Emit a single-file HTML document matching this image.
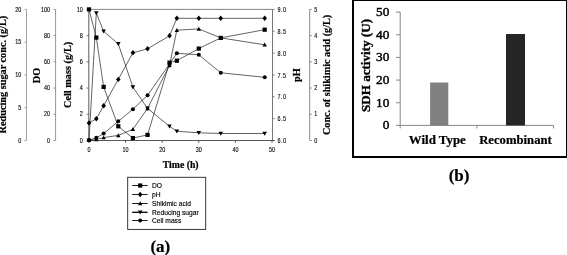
<!DOCTYPE html>
<html><head><meta charset="utf-8"><title>Figure</title>
<style>
html,body{margin:0;padding:0;background:#fff;}
body{width:567px;height:255px;overflow:hidden;}
svg{display:block;}
.t{font-family:"Liberation Sans",Arial,sans-serif;font-size:6.8px;fill:#000;stroke:#000;stroke-width:0.12px;}
.lg{font-family:"Liberation Sans",Arial,sans-serif;font-size:7.3px;fill:#000;stroke:#000;stroke-width:0.15px;}
.b{font-family:"Liberation Serif","Times New Roman",serif;font-weight:bold;fill:#000;stroke:#000;stroke-width:0.22px;}
</style></head><body>
<svg width="567" height="255" viewBox="0 0 567 255">
<rect width="567" height="255" fill="#fff"/>
<line x1="26.5" y1="9.4" x2="26.5" y2="140.5" stroke="#8a8a8a" stroke-width="0.8"/>
<line x1="26.5" y1="140.50" x2="24.3" y2="140.50" stroke="#8a8a8a" stroke-width="0.7"/>
<text class="t" transform="translate(21.3 142.65) scale(0.8 1)" text-anchor="end">0</text>
<line x1="26.5" y1="107.72" x2="24.3" y2="107.72" stroke="#8a8a8a" stroke-width="0.7"/>
<text class="t" transform="translate(21.3 109.88) scale(0.8 1)" text-anchor="end">5</text>
<line x1="26.5" y1="74.95" x2="24.3" y2="74.95" stroke="#8a8a8a" stroke-width="0.7"/>
<text class="t" transform="translate(21.3 77.10) scale(0.8 1)" text-anchor="end">10</text>
<line x1="26.5" y1="42.18" x2="24.3" y2="42.18" stroke="#8a8a8a" stroke-width="0.7"/>
<text class="t" transform="translate(21.3 44.33) scale(0.8 1)" text-anchor="end">15</text>
<line x1="26.5" y1="9.40" x2="24.3" y2="9.40" stroke="#8a8a8a" stroke-width="0.7"/>
<text class="t" transform="translate(21.3 11.55) scale(0.8 1)" text-anchor="end">20</text>
<line x1="55.6" y1="9.4" x2="55.6" y2="140.5" stroke="#777" stroke-width="0.8"/>
<line x1="55.6" y1="140.50" x2="53.4" y2="140.50" stroke="#777" stroke-width="0.7"/>
<text class="t" transform="translate(50.1 142.65) scale(0.8 1)" text-anchor="end">0</text>
<line x1="55.6" y1="114.28" x2="53.4" y2="114.28" stroke="#777" stroke-width="0.7"/>
<text class="t" transform="translate(50.1 116.43) scale(0.8 1)" text-anchor="end">20</text>
<line x1="55.6" y1="88.06" x2="53.4" y2="88.06" stroke="#777" stroke-width="0.7"/>
<text class="t" transform="translate(50.1 90.21) scale(0.8 1)" text-anchor="end">40</text>
<line x1="55.6" y1="61.84" x2="53.4" y2="61.84" stroke="#777" stroke-width="0.7"/>
<text class="t" transform="translate(50.1 63.99) scale(0.8 1)" text-anchor="end">60</text>
<line x1="55.6" y1="35.62" x2="53.4" y2="35.62" stroke="#777" stroke-width="0.7"/>
<text class="t" transform="translate(50.1 37.77) scale(0.8 1)" text-anchor="end">80</text>
<line x1="55.6" y1="9.40" x2="53.4" y2="9.40" stroke="#777" stroke-width="0.7"/>
<text class="t" transform="translate(50.1 11.55) scale(0.8 1)" text-anchor="end">100</text>
<line x1="88.8" y1="9.4" x2="88.8" y2="140.5" stroke="#333" stroke-width="0.8"/>
<line x1="88.8" y1="140.50" x2="86.6" y2="140.50" stroke="#333" stroke-width="0.7"/>
<text class="t" transform="translate(82.7 142.65) scale(0.8 1)" text-anchor="end">0</text>
<line x1="88.8" y1="114.28" x2="86.6" y2="114.28" stroke="#333" stroke-width="0.7"/>
<text class="t" transform="translate(82.7 116.43) scale(0.8 1)" text-anchor="end">2</text>
<line x1="88.8" y1="88.06" x2="86.6" y2="88.06" stroke="#333" stroke-width="0.7"/>
<text class="t" transform="translate(82.7 90.21) scale(0.8 1)" text-anchor="end">4</text>
<line x1="88.8" y1="61.84" x2="86.6" y2="61.84" stroke="#333" stroke-width="0.7"/>
<text class="t" transform="translate(82.7 63.99) scale(0.8 1)" text-anchor="end">6</text>
<line x1="88.8" y1="35.62" x2="86.6" y2="35.62" stroke="#333" stroke-width="0.7"/>
<text class="t" transform="translate(82.7 37.77) scale(0.8 1)" text-anchor="end">8</text>
<line x1="88.8" y1="9.40" x2="86.6" y2="9.40" stroke="#333" stroke-width="0.7"/>
<text class="t" transform="translate(82.7 11.55) scale(0.8 1)" text-anchor="end">10</text>
<line x1="272.5" y1="9.4" x2="272.5" y2="140.5" stroke="#555" stroke-width="0.8"/>
<line x1="272.5" y1="140.50" x2="274.7" y2="140.50" stroke="#555" stroke-width="0.7"/>
<text class="t" transform="translate(277.5 143.15) scale(0.8 1)" text-anchor="start" letter-spacing="0.6">6.0</text>
<line x1="272.5" y1="118.65" x2="274.7" y2="118.65" stroke="#555" stroke-width="0.7"/>
<text class="t" transform="translate(277.5 121.30) scale(0.8 1)" text-anchor="start" letter-spacing="0.6">6.5</text>
<line x1="272.5" y1="96.80" x2="274.7" y2="96.80" stroke="#555" stroke-width="0.7"/>
<text class="t" transform="translate(277.5 99.45) scale(0.8 1)" text-anchor="start" letter-spacing="0.6">7.0</text>
<line x1="272.5" y1="74.95" x2="274.7" y2="74.95" stroke="#555" stroke-width="0.7"/>
<text class="t" transform="translate(277.5 77.60) scale(0.8 1)" text-anchor="start" letter-spacing="0.6">7.5</text>
<line x1="272.5" y1="53.10" x2="274.7" y2="53.10" stroke="#555" stroke-width="0.7"/>
<text class="t" transform="translate(277.5 55.75) scale(0.8 1)" text-anchor="start" letter-spacing="0.6">8.0</text>
<line x1="272.5" y1="31.25" x2="274.7" y2="31.25" stroke="#555" stroke-width="0.7"/>
<text class="t" transform="translate(277.5 33.90) scale(0.8 1)" text-anchor="start" letter-spacing="0.6">8.5</text>
<line x1="272.5" y1="9.40" x2="274.7" y2="9.40" stroke="#555" stroke-width="0.7"/>
<text class="t" transform="translate(277.5 12.05) scale(0.8 1)" text-anchor="start" letter-spacing="0.6">9.0</text>
<line x1="309.7" y1="9.4" x2="309.7" y2="140.5" stroke="#6a6a6a" stroke-width="0.8"/>
<line x1="309.7" y1="140.50" x2="311.9" y2="140.50" stroke="#6a6a6a" stroke-width="0.7"/>
<text class="t" transform="translate(314.2 142.65) scale(0.8 1)" text-anchor="start">0</text>
<line x1="309.7" y1="114.28" x2="311.9" y2="114.28" stroke="#6a6a6a" stroke-width="0.7"/>
<text class="t" transform="translate(314.2 116.43) scale(0.8 1)" text-anchor="start">1</text>
<line x1="309.7" y1="88.06" x2="311.9" y2="88.06" stroke="#6a6a6a" stroke-width="0.7"/>
<text class="t" transform="translate(314.2 90.21) scale(0.8 1)" text-anchor="start">2</text>
<line x1="309.7" y1="61.84" x2="311.9" y2="61.84" stroke="#6a6a6a" stroke-width="0.7"/>
<text class="t" transform="translate(314.2 63.99) scale(0.8 1)" text-anchor="start">3</text>
<line x1="309.7" y1="35.62" x2="311.9" y2="35.62" stroke="#6a6a6a" stroke-width="0.7"/>
<text class="t" transform="translate(314.2 37.77) scale(0.8 1)" text-anchor="start">4</text>
<line x1="309.7" y1="9.40" x2="311.9" y2="9.40" stroke="#6a6a6a" stroke-width="0.7"/>
<text class="t" transform="translate(314.2 11.55) scale(0.8 1)" text-anchor="start">5</text>
<line x1="88.8" y1="9.4" x2="272.5" y2="9.4" stroke="#777" stroke-width="0.9"/>
<line x1="88.8" y1="140.5" x2="274.6" y2="140.5" stroke="#444" stroke-width="0.9"/>
<line x1="89.00" y1="140.5" x2="89.00" y2="142.8" stroke="#333" stroke-width="0.8"/>
<text class="t" transform="translate(89.00 152.0) scale(0.8 1)" text-anchor="middle">0</text>
<line x1="125.60" y1="140.5" x2="125.60" y2="142.8" stroke="#333" stroke-width="0.8"/>
<text class="t" transform="translate(125.60 152.0) scale(0.8 1)" text-anchor="middle">10</text>
<line x1="162.20" y1="140.5" x2="162.20" y2="142.8" stroke="#333" stroke-width="0.8"/>
<text class="t" transform="translate(162.20 152.0) scale(0.8 1)" text-anchor="middle">20</text>
<line x1="198.80" y1="140.5" x2="198.80" y2="142.8" stroke="#333" stroke-width="0.8"/>
<text class="t" transform="translate(198.80 152.0) scale(0.8 1)" text-anchor="middle">30</text>
<line x1="235.40" y1="140.5" x2="235.40" y2="142.8" stroke="#333" stroke-width="0.8"/>
<text class="t" transform="translate(235.40 152.0) scale(0.8 1)" text-anchor="middle">40</text>
<line x1="272.00" y1="140.5" x2="272.00" y2="142.8" stroke="#333" stroke-width="0.8"/>
<text class="t" transform="translate(272.00 152.0) scale(0.8 1)" text-anchor="middle">50</text>
<polyline points="89.00,9.40 96.32,37.60 103.64,86.90 118.28,126.30 132.92,138.10 147.56,134.90 169.52,62.60 176.84,60.70 198.80,48.60 220.76,37.90 264.68,29.70" fill="none" stroke="#1a1a1a" stroke-width="0.68" stroke-linejoin="round"/>
<polyline points="89.00,123.00 96.32,118.80 103.64,105.70 118.28,79.40 132.92,52.80 147.56,48.80 169.52,35.80 176.84,18.30 198.80,18.30 220.76,18.30 264.68,18.30" fill="none" stroke="#1a1a1a" stroke-width="0.68" stroke-linejoin="round"/>
<polyline points="89.00,140.30 96.32,139.50 103.64,137.60 118.28,135.40 132.92,129.30 147.56,108.40 169.52,65.40 176.84,30.20 198.80,28.90 220.76,37.90 264.68,44.80" fill="none" stroke="#1a1a1a" stroke-width="0.68" stroke-linejoin="round"/>
<polyline points="89.00,140.30 96.32,13.00 103.64,31.30 118.28,43.90 132.92,87.20 147.56,108.40 169.52,126.30 176.84,131.30 198.80,132.80 220.76,133.50 264.68,133.50" fill="none" stroke="#1a1a1a" stroke-width="0.68" stroke-linejoin="round"/>
<polyline points="89.00,140.30 96.32,137.80 103.64,133.60 118.28,121.30 132.92,109.20 147.56,95.30 169.52,64.00 176.84,53.30 198.80,54.80 220.76,72.80 264.68,77.30" fill="none" stroke="#1a1a1a" stroke-width="0.68" stroke-linejoin="round"/>
<rect x="86.90" y="7.30" width="4.2" height="4.2" fill="#000"/>
<rect x="94.22" y="35.50" width="4.2" height="4.2" fill="#000"/>
<rect x="101.54" y="84.80" width="4.2" height="4.2" fill="#000"/>
<rect x="116.18" y="124.20" width="4.2" height="4.2" fill="#000"/>
<rect x="130.82" y="136.00" width="4.2" height="4.2" fill="#000"/>
<rect x="145.46" y="132.80" width="4.2" height="4.2" fill="#000"/>
<rect x="167.42" y="60.50" width="4.2" height="4.2" fill="#000"/>
<rect x="174.74" y="58.60" width="4.2" height="4.2" fill="#000"/>
<rect x="196.70" y="46.50" width="4.2" height="4.2" fill="#000"/>
<rect x="218.66" y="35.80" width="4.2" height="4.2" fill="#000"/>
<rect x="262.58" y="27.60" width="4.2" height="4.2" fill="#000"/>
<path d="M89.00 120.30L91.30 123.00L89.00 125.70L86.70 123.00Z" fill="#000"/>
<path d="M96.32 116.10L98.61 118.80L96.32 121.50L94.02 118.80Z" fill="#000"/>
<path d="M103.64 103.00L105.94 105.70L103.64 108.40L101.34 105.70Z" fill="#000"/>
<path d="M118.28 76.70L120.58 79.40L118.28 82.10L115.98 79.40Z" fill="#000"/>
<path d="M132.92 50.10L135.22 52.80L132.92 55.50L130.63 52.80Z" fill="#000"/>
<path d="M147.56 46.10L149.85 48.80L147.56 51.50L145.27 48.80Z" fill="#000"/>
<path d="M169.52 33.10L171.81 35.80L169.52 38.50L167.23 35.80Z" fill="#000"/>
<path d="M176.84 15.60L179.13 18.30L176.84 21.00L174.55 18.30Z" fill="#000"/>
<path d="M198.80 15.60L201.09 18.30L198.80 21.00L196.51 18.30Z" fill="#000"/>
<path d="M220.76 15.60L223.05 18.30L220.76 21.00L218.47 18.30Z" fill="#000"/>
<path d="M264.68 15.60L266.98 18.30L264.68 21.00L262.38 18.30Z" fill="#000"/>
<path d="M89.00 138.10L91.20 142.06L86.80 142.06Z" fill="#000"/>
<path d="M96.32 137.30L98.52 141.26L94.12 141.26Z" fill="#000"/>
<path d="M103.64 135.40L105.84 139.36L101.44 139.36Z" fill="#000"/>
<path d="M118.28 133.20L120.48 137.16L116.08 137.16Z" fill="#000"/>
<path d="M132.92 127.10L135.12 131.06L130.72 131.06Z" fill="#000"/>
<path d="M147.56 106.20L149.76 110.16L145.36 110.16Z" fill="#000"/>
<path d="M169.52 63.20L171.72 67.16L167.32 67.16Z" fill="#000"/>
<path d="M176.84 28.00L179.04 31.96L174.64 31.96Z" fill="#000"/>
<path d="M198.80 26.70L201.00 30.66L196.60 30.66Z" fill="#000"/>
<path d="M220.76 35.70L222.96 39.66L218.56 39.66Z" fill="#000"/>
<path d="M264.68 42.60L266.88 46.56L262.48 46.56Z" fill="#000"/>
<path d="M89.00 142.60L91.30 138.46L86.70 138.46Z" fill="#000"/>
<path d="M96.32 15.30L98.62 11.16L94.02 11.16Z" fill="#000"/>
<path d="M103.64 33.60L105.94 29.46L101.34 29.46Z" fill="#000"/>
<path d="M118.28 46.20L120.58 42.06L115.98 42.06Z" fill="#000"/>
<path d="M132.92 89.50L135.22 85.36L130.62 85.36Z" fill="#000"/>
<path d="M147.56 110.70L149.86 106.56L145.26 106.56Z" fill="#000"/>
<path d="M169.52 128.60L171.82 124.46L167.22 124.46Z" fill="#000"/>
<path d="M176.84 133.60L179.14 129.46L174.54 129.46Z" fill="#000"/>
<path d="M198.80 135.10L201.10 130.96L196.50 130.96Z" fill="#000"/>
<path d="M220.76 135.80L223.06 131.66L218.46 131.66Z" fill="#000"/>
<path d="M264.68 135.80L266.98 131.66L262.38 131.66Z" fill="#000"/>
<circle cx="89.00" cy="140.30" r="2.0" fill="#000"/>
<circle cx="96.32" cy="137.80" r="2.0" fill="#000"/>
<circle cx="103.64" cy="133.60" r="2.0" fill="#000"/>
<circle cx="118.28" cy="121.30" r="2.0" fill="#000"/>
<circle cx="132.92" cy="109.20" r="2.0" fill="#000"/>
<circle cx="147.56" cy="95.30" r="2.0" fill="#000"/>
<circle cx="169.52" cy="64.00" r="2.0" fill="#000"/>
<circle cx="176.84" cy="53.30" r="2.0" fill="#000"/>
<circle cx="198.80" cy="54.80" r="2.0" fill="#000"/>
<circle cx="220.76" cy="72.80" r="2.0" fill="#000"/>
<circle cx="264.68" cy="77.30" r="2.0" fill="#000"/>
<text class="b" font-size="10.25" text-anchor="middle" style="stroke:#000;stroke-width:0.2px" transform="translate(5.9 74.6) rotate(-90)">Reducing sugar conc. (g/L)</text>
<text class="b" font-size="10.3" text-anchor="middle" style="stroke:#000;stroke-width:0.2px" transform="translate(40.2 75.5) rotate(-90)">DO</text>
<text class="b" font-size="10.27" text-anchor="middle" style="stroke:#000;stroke-width:0.2px" transform="translate(71.4 74.9) rotate(-90)">Cell mass (g/L)</text>
<text class="b" font-size="10.3" text-anchor="middle" style="stroke:#000;stroke-width:0.2px" transform="translate(300.2 75.2) rotate(-90)">pH</text>
<text class="b" font-size="10.2" text-anchor="middle" style="stroke:#000;stroke-width:0.2px" transform="translate(330.0 74.9) rotate(-90)">Conc. of shikimic acid (g/L)</text>
<text class="b" font-size="9.75" x="180.7" y="168.0" text-anchor="middle">Time (h)</text>
<rect x="127.7" y="177.3" width="78.0" height="52.1" fill="#fff" stroke="#222" stroke-width="0.9"/>
<line x1="132.2" y1="185.5" x2="147.6" y2="185.5" stroke="#000" stroke-width="0.9"/>
<rect x="138.10" y="183.40" width="4.2" height="4.2" fill="#000"/>
<text class="lg" transform="translate(152.0 188.45) scale(0.915 1)">DO</text>
<line x1="132.2" y1="194.5" x2="147.6" y2="194.5" stroke="#000" stroke-width="0.9"/>
<path d="M140.20 191.80L142.49 194.50L140.20 197.20L137.91 194.50Z" fill="#000"/>
<text class="lg" transform="translate(152.0 197.05) scale(0.915 1)">pH</text>
<line x1="132.2" y1="203.5" x2="147.6" y2="203.5" stroke="#000" stroke-width="0.9"/>
<path d="M140.20 201.30L142.40 205.26L138.00 205.26Z" fill="#000"/>
<text class="lg" transform="translate(152.0 206.05) scale(0.915 1)">Shikimic acid</text>
<line x1="132.2" y1="212.3" x2="147.6" y2="212.3" stroke="#000" stroke-width="1.3"/>
<path d="M140.20 214.60L142.50 210.46L137.90 210.46Z" fill="#000"/>
<text class="lg" transform="translate(152.0 214.85) scale(0.915 1)">Reducing sugar</text>
<line x1="132.2" y1="220.5" x2="147.6" y2="220.5" stroke="#000" stroke-width="0.9"/>
<circle cx="140.20" cy="220.50" r="2.0" fill="#000"/>
<text class="lg" transform="translate(152.0 223.05) scale(0.915 1)">Cell mass</text>
<text class="b" font-size="17" x="160.3" y="251.5" text-anchor="middle">(a)</text>
<rect x="353" y="0" width="214" height="157" fill="#fff" stroke="#000" stroke-width="2"/>
<line x1="400.2" y1="12.1" x2="400.2" y2="125.4" stroke="#868686" stroke-width="1"/>
<line x1="400.2" y1="125.4" x2="553.6" y2="125.4" stroke="#868686" stroke-width="1"/>
<line x1="396.0" y1="125.40" x2="400.2" y2="125.40" stroke="#868686" stroke-width="1"/>
<text class="b" font-size="13.3" x="389.4" y="129.20" text-anchor="end" style="font-weight:normal;stroke:#000;stroke-width:0.45px">0</text>
<line x1="396.0" y1="102.74" x2="400.2" y2="102.74" stroke="#868686" stroke-width="1"/>
<text class="b" font-size="13.3" x="389.4" y="106.54" text-anchor="end" style="font-weight:normal;stroke:#000;stroke-width:0.45px">10</text>
<line x1="396.0" y1="80.08" x2="400.2" y2="80.08" stroke="#868686" stroke-width="1"/>
<text class="b" font-size="13.3" x="389.4" y="83.88" text-anchor="end" style="font-weight:normal;stroke:#000;stroke-width:0.45px">20</text>
<line x1="396.0" y1="57.42" x2="400.2" y2="57.42" stroke="#868686" stroke-width="1"/>
<text class="b" font-size="13.3" x="389.4" y="61.22" text-anchor="end" style="font-weight:normal;stroke:#000;stroke-width:0.45px">30</text>
<line x1="396.0" y1="34.76" x2="400.2" y2="34.76" stroke="#868686" stroke-width="1"/>
<text class="b" font-size="13.3" x="389.4" y="38.56" text-anchor="end" style="font-weight:normal;stroke:#000;stroke-width:0.45px">40</text>
<line x1="396.0" y1="12.10" x2="400.2" y2="12.10" stroke="#868686" stroke-width="1"/>
<text class="b" font-size="13.3" x="389.4" y="15.90" text-anchor="end" style="font-weight:normal;stroke:#000;stroke-width:0.45px">50</text>
<line x1="400.2" y1="125.4" x2="400.2" y2="128.4" stroke="#868686" stroke-width="1"/>
<line x1="476.9" y1="125.4" x2="476.9" y2="128.4" stroke="#868686" stroke-width="1"/>
<line x1="553.6" y1="125.4" x2="553.6" y2="128.4" stroke="#868686" stroke-width="1"/>
<rect x="430.1" y="82.5" width="18.2" height="42.9" fill="#808080"/>
<rect x="506.0" y="34.0" width="19.0" height="91.4" fill="#262626"/>
<text class="b" font-size="12.9" x="437.3" y="143.9" text-anchor="middle">Wild Type</text>
<text class="b" font-size="12.7" x="515.5" y="143.8" text-anchor="middle">Recombinant</text>
<text class="b" font-size="13.1" text-anchor="middle" style="stroke:#000;stroke-width:0.35px" transform="translate(370.4 65.5) rotate(-90)">SDH activity (U)</text>
<text class="b" font-size="17" x="459.1" y="181.3" text-anchor="middle">(b)</text>
</svg>
</body></html>
